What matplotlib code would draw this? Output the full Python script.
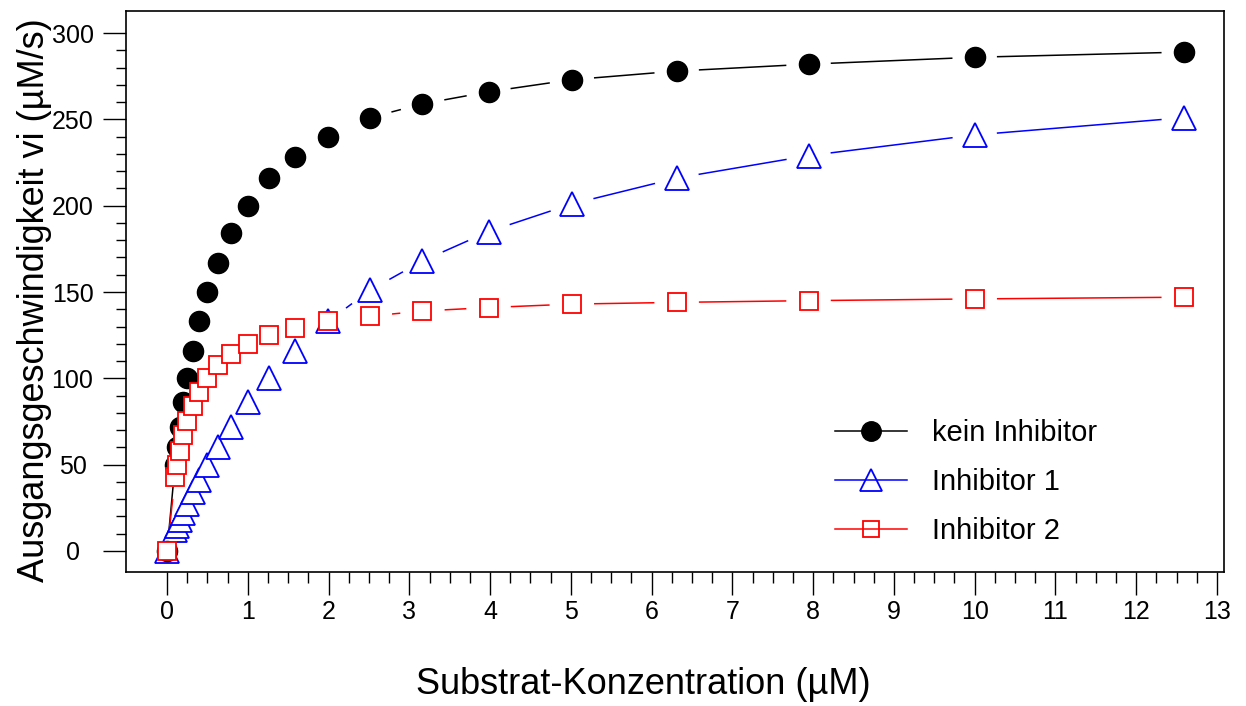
import numpy as np
import matplotlib
matplotlib.use("Agg")
import matplotlib.pyplot as plt
from matplotlib.lines import Line2D
from matplotlib.ticker import FixedLocator

# ----------------------------------------------
# Daten
# ----------------------------------------------
substrat = [0, 0.1, 0.126, 0.158, 0.2, 0.251, 0.316, 0.398, 0.501, 0.631,
            0.794, 1.0, 1.259, 1.585, 1.995, 2.512, 3.162, 3.981, 5.012,
            6.31, 7.943, 10.0, 12.589]
kein_inhibitor = [0, 50, 60, 72, 86, 100, 116, 133, 150, 167, 184, 200, 216,
                  228, 240, 251, 259, 266, 273, 278, 282, 286, 289]
inhibitor_1 = [0, 12, 14.5, 18, 22, 27, 34, 41, 50, 60, 72, 86, 100, 116,
               133, 151, 168, 185, 201, 216, 229, 241, 251]
inhibitor_2 = [0, 43, 50, 58, 67, 75, 84, 92, 100, 108, 114, 120, 125, 129,
               133, 136, 139, 141, 143, 144, 145, 146, 147]

plt.rcParams['font.family'] = ['Liberation Sans', 'DejaVu Sans']

fig = plt.figure(figsize=(12.46, 7.06), dpi=100)
ax = fig.add_axes([126 / 1246, 1 - 572 / 706, 1098 / 1246, 561 / 706])
ax.set_xlim(-0.508, 13.087)
ax.set_ylim(-12.2, 312.8)

# Achsen / Ticks
ax.set_xticks(range(0, 14))
ax.xaxis.set_minor_locator(FixedLocator(np.arange(0, 13.01, 0.25)))
ax.set_yticks(range(0, 301, 50))
ax.yaxis.set_minor_locator(FixedLocator(np.arange(0, 301, 10)))
ax.tick_params(axis='x', which='major', direction='out', length=16.5, width=1,
               labelsize=18, pad=4)
ax.tick_params(axis='x', which='minor', direction='out', length=8, width=1)
ax.tick_params(axis='y', which='major', direction='out', length=16.5, width=1,
               labelsize=18, pad=22)
ax.tick_params(axis='y', which='minor', direction='out', length=7.2, width=1)
for lab in ax.get_yticklabels():
    lab.set_horizontalalignment('center')
for s in ax.spines.values():
    s.set_linewidth(1.2)

# Linien mit Lücke um die Marker (wie in Origin)
GAP = 23  # Pixel vom Markermittelpunkt
fig.canvas.draw()
trans = ax.transData
inv = trans.inverted()


def gap_line(xs, ys, color):
    pts = trans.transform(np.column_stack([xs, ys]))
    for p0, p1 in zip(pts[:-1], pts[1:]):
        d = p1 - p0
        L = np.hypot(*d)
        if L <= 2 * GAP:
            continue
        u = d / L
        a = inv.transform(p0 + u * GAP)
        b = inv.transform(p1 - u * GAP)
        ax.plot([a[0], b[0]], [a[1], b[1]], color=color, lw=1.1, zorder=1,
                clip_on=False)


gap_line(substrat, kein_inhibitor, 'black')
gap_line(substrat, inhibitor_1, 'blue')
gap_line(substrat, inhibitor_2, 'red')

ax.plot(substrat, inhibitor_1, ls='none', marker='^', ms=17, mfc='white',
        mec='blue', mew=1.3, zorder=3, clip_on=False)
ax.plot(substrat, kein_inhibitor, ls='none', marker='o', ms=14.5, mfc='black',
        mec='black', zorder=4, clip_on=False)
ax.plot(substrat, inhibitor_2, ls='none', marker='s', ms=12.5, mfc='white',
        mec='red', mew=1.3, zorder=5, clip_on=False)

# Legende
handles = [
    Line2D([], [], color='black', lw=1.1, marker='o', ms=14, mfc='black', mec='black'),
    Line2D([], [], color='blue', lw=1.1, marker='^', ms=16, mfc='none', mec='blue', mew=1.3),
    Line2D([], [], color='red', lw=1.1, marker='s', ms=12, mfc='none', mec='red', mew=1.3),
]
ax.legend(handles, ['kein Inhibitor', 'Inhibitor 1', 'Inhibitor 2'],
          loc='upper left', bbox_to_anchor=(835 / 1246, 1 - 419 / 706),
          bbox_transform=fig.transFigure, frameon=False, fontsize=21,
          handlelength=2.48, handletextpad=0.86, labelspacing=0.72,
          borderpad=0, borderaxespad=0)

# Achsentitel
ax.set_xlabel('Substrat-Konzentration (µM)', fontsize=26)
ax.xaxis.set_label_coords(643 / 1246, 1 - 667 / 706, transform=fig.transFigure)
ax.xaxis.label.set_verticalalignment('top')
ax.set_ylabel('Ausgangsgeschwindigkeit vi (µM/s)', fontsize=26)
ax.yaxis.set_label_coords(52 / 1246, 1 - 300 / 706, transform=fig.transFigure)

fig.savefig('out.png', dpi=100)
plt.close(fig)
